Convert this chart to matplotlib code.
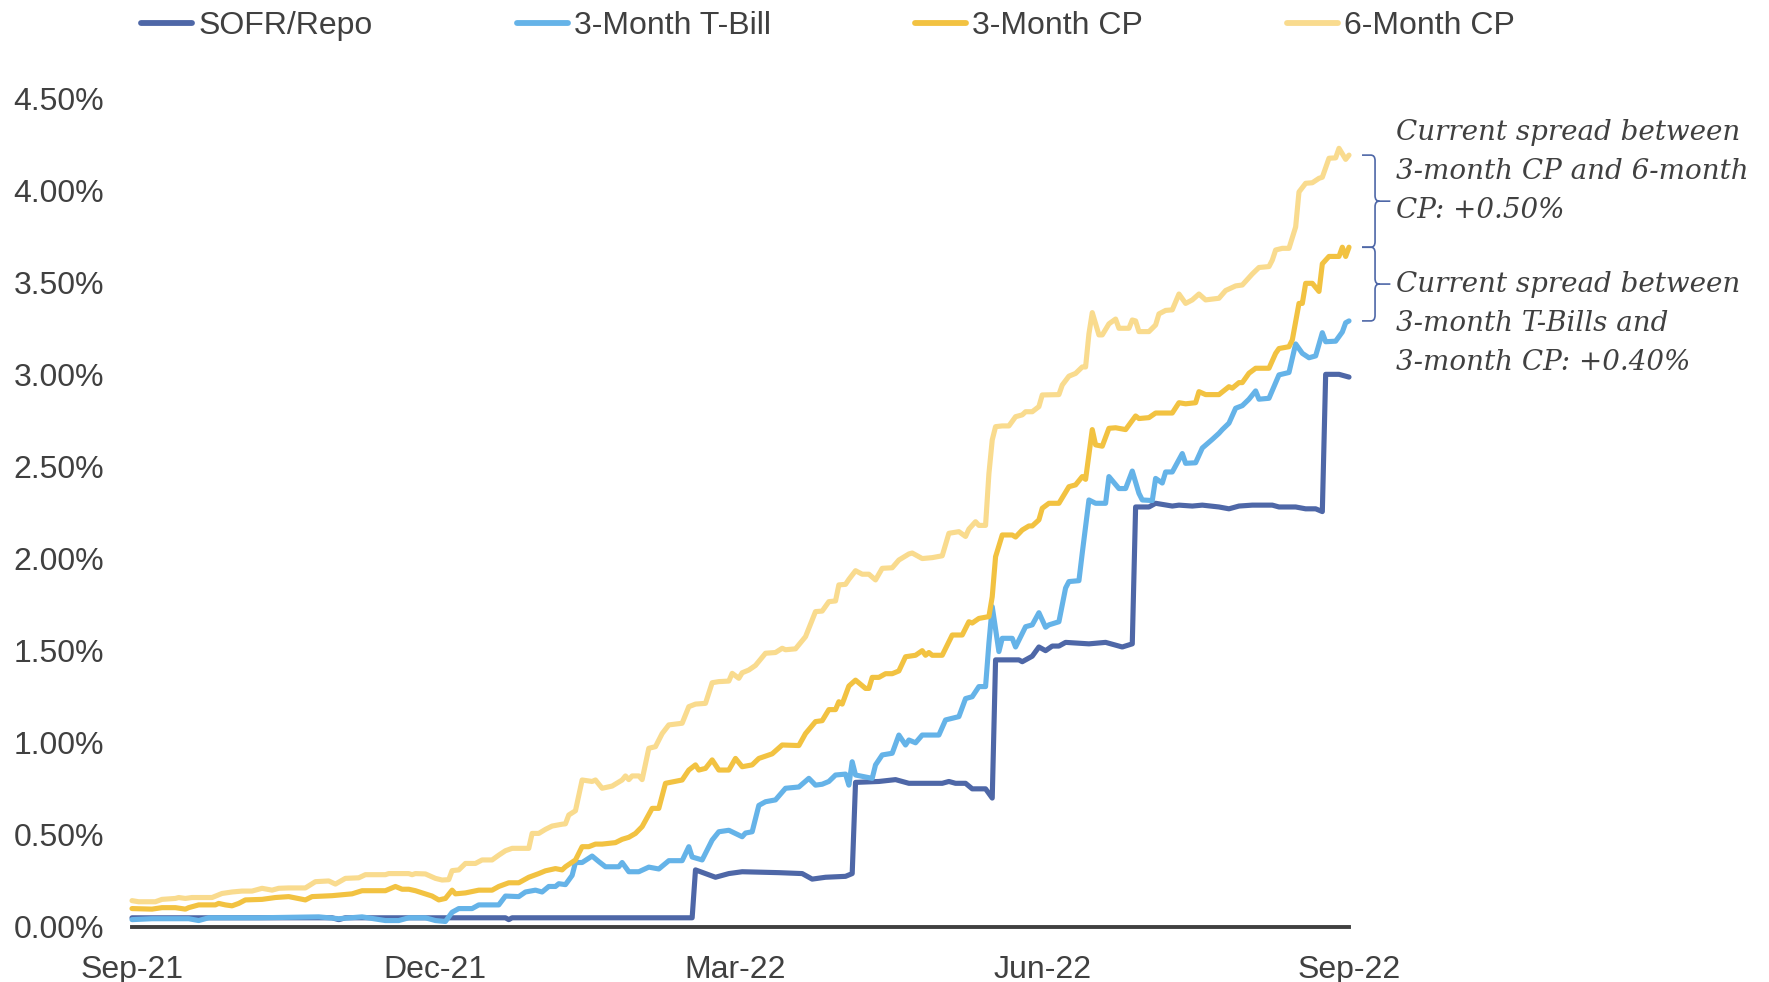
import pandas as pd
import matplotlib
matplotlib.use("Agg")
import matplotlib.pyplot as plt
import matplotlib.dates as mdates
import matplotlib.transforms as mtransforms
from matplotlib.path import Path
from matplotlib.patches import PathPatch
from matplotlib.ticker import FuncFormatter

START = pd.Timestamp("2021-09-01")

# Day offsets from 1 Sep 2021 and rates (%)
sofr_days = [0, 60, 62, 64, 112, 113, 114, 168, 169, 175,
             179, 183, 194, 201, 204, 208, 214, 216, 217, 224,
             229, 233, 243, 245, 247, 250, 252, 256, 258, 259,
             266, 267, 270, 272, 274, 276, 278, 280, 287, 292,
             297, 300, 301, 305, 307, 312, 314, 318, 321, 326,
             329, 332, 336, 342, 344, 349, 352, 355, 357, 358,
             362, 365]
sofr = [0.05, 0.05, 0.04, 0.05, 0.05, 0.04, 0.05, 0.05, 0.31, 0.27,
        0.29, 0.30, 0.295, 0.29, 0.26, 0.27, 0.275, 0.29, 0.785, 0.79,
        0.80, 0.78, 0.78, 0.79, 0.78, 0.78, 0.75, 0.75, 0.70, 1.45,
        1.45, 1.44, 1.47, 1.52, 1.50, 1.525, 1.525, 1.545, 1.537, 1.545,
        1.52, 1.537, 2.28, 2.28, 2.30, 2.285, 2.29, 2.285, 2.29, 2.28,
        2.27, 2.285, 2.29, 2.29, 2.28, 2.28, 2.27, 2.27, 2.255, 3.00,
        3.00, 2.985]

tbill_days = [0, 6, 17, 20, 23, 38, 56, 62, 69, 76,
              80, 83, 88, 91, 94, 96, 98, 102, 104, 110,
              112, 116, 118, 121, 123, 125, 127, 128, 130, 132,
              133, 135, 138, 140, 142, 146, 147, 149, 152, 155,
              158, 161, 165, 167, 168, 171, 174, 176, 179, 183,
              184, 186, 188, 190, 193, 196, 200, 203, 205, 207,
              209, 211, 214, 215, 216, 217, 222, 223, 225, 228,
              230, 232, 233, 235, 237, 242, 244, 248, 250, 252,
              254, 256, 257, 258, 260, 261, 264, 265, 268, 270,
              272, 274, 275, 278, 280, 281, 284, 285, 287, 289,
              292, 293, 296, 298, 300, 302, 303, 306, 307, 309,
              310, 312, 315, 316, 319, 321, 324, 326, 327, 329,
              331, 333, 335, 337, 338, 341, 344, 347, 349, 351,
              353, 355, 357, 358, 361, 363, 364, 365]
tbill = [0.04, 0.045, 0.045, 0.035, 0.05, 0.05, 0.055, 0.045, 0.055, 0.035,
         0.035, 0.05, 0.05, 0.035, 0.03, 0.08, 0.10, 0.10, 0.12, 0.12,
         0.168, 0.165, 0.19, 0.20, 0.19, 0.22, 0.22, 0.235, 0.23, 0.28,
         0.35, 0.35, 0.385, 0.355, 0.327, 0.327, 0.35, 0.30, 0.30, 0.325,
         0.315, 0.36, 0.36, 0.436, 0.38, 0.364, 0.472, 0.517, 0.525, 0.49,
         0.51, 0.517, 0.66, 0.68, 0.69, 0.753, 0.76, 0.807, 0.77, 0.775,
         0.79, 0.825, 0.83, 0.77, 0.897, 0.825, 0.807, 0.88, 0.934, 0.943,
         1.042, 0.988, 1.015, 1.00, 1.042, 1.042, 1.124, 1.142, 1.24, 1.25,
         1.305, 1.305, 1.54, 1.739, 1.495, 1.567, 1.567, 1.52, 1.63, 1.64,
         1.706, 1.627, 1.64, 1.657, 1.84, 1.875, 1.88, 2.03, 2.318, 2.30,
         2.30, 2.445, 2.38, 2.38, 2.475, 2.354, 2.318, 2.315, 2.435, 2.41,
         2.47, 2.47, 2.57, 2.517, 2.52, 2.60, 2.647, 2.68, 2.70, 2.735,
         2.816, 2.83, 2.865, 2.91, 2.865, 2.87, 2.997, 3.01, 3.165, 3.114,
         3.09, 3.10, 3.226, 3.177, 3.18, 3.23, 3.28, 3.29]

cp3_days = [0, 6, 9, 13, 16, 17, 20, 25, 26, 28,
            30, 32, 34, 39, 43, 47, 52, 54, 60, 66,
            69, 76, 79, 81, 83, 85, 90, 92, 94, 96,
            97, 100, 104, 108, 110, 113, 116, 119, 122, 124,
            127, 129, 130, 133, 135, 137, 139, 141, 145, 147,
            149, 151, 153, 156, 158, 160, 165, 167, 169, 170,
            172, 174, 176, 179, 181, 183, 186, 188, 192, 195,
            200, 202, 205, 207, 209, 211, 212, 213, 215, 217,
            220, 221, 222, 224, 226, 228, 230, 232, 235, 237,
            238, 239, 240, 243, 246, 249, 251, 252, 254, 257,
            258, 259, 261, 264, 265, 267, 269, 270, 272, 273,
            275, 278, 281, 283, 285, 286, 288, 289, 291, 293,
            295, 298, 301, 302, 305, 307, 312, 314, 316, 319,
            320, 322, 326, 329, 330, 332, 333, 335, 337, 341,
            343, 344, 347, 348, 350, 351, 352, 354, 356, 357,
            358, 359, 362, 363, 364, 365]
cp3 = [0.10, 0.097, 0.105, 0.105, 0.097, 0.105, 0.12, 0.12, 0.128, 0.12,
       0.115, 0.128, 0.147, 0.15, 0.16, 0.165, 0.147, 0.165, 0.17, 0.18,
       0.197, 0.197, 0.22, 0.205, 0.205, 0.197, 0.168, 0.147, 0.155, 0.20,
       0.18, 0.185, 0.20, 0.20, 0.22, 0.24, 0.24, 0.27, 0.29, 0.305,
       0.317, 0.31, 0.327, 0.364, 0.436, 0.436, 0.45, 0.45, 0.458, 0.476,
       0.487, 0.508, 0.545, 0.644, 0.644, 0.78, 0.798, 0.852, 0.88, 0.852,
       0.861, 0.907, 0.852, 0.852, 0.915, 0.87, 0.88, 0.915, 0.94, 0.988,
       0.985, 1.05, 1.115, 1.12, 1.18, 1.18, 1.223, 1.21, 1.308, 1.34,
       1.295, 1.295, 1.355, 1.355, 1.375, 1.375, 1.39, 1.467, 1.475, 1.50,
       1.475, 1.49, 1.475, 1.475, 1.585, 1.585, 1.657, 1.65, 1.675, 1.685,
       1.793, 2.01, 2.128, 2.128, 2.117, 2.155, 2.177, 2.177, 2.21, 2.273,
       2.30, 2.30, 2.39, 2.40, 2.445, 2.43, 2.70, 2.617, 2.61, 2.707,
       2.71, 2.70, 2.774, 2.76, 2.765, 2.79, 2.79, 2.846, 2.84, 2.846,
       2.906, 2.89, 2.89, 2.933, 2.925, 2.955, 2.955, 3.006, 3.033, 3.033,
       3.114, 3.14, 3.15, 3.187, 3.385, 3.385, 3.494, 3.494, 3.45, 3.60,
       3.62, 3.64, 3.64, 3.69, 3.64, 3.69]

cp6_days = [0, 2, 7, 9, 13, 14, 16, 18, 24, 27,
            30, 33, 36, 39, 42, 44, 47, 52, 55, 59,
            61, 64, 68, 70, 76, 77, 83, 84, 85, 88,
            91, 93, 95, 96, 98, 100, 103, 105, 108, 110,
            112, 114, 119, 120, 122, 124, 126, 129, 130, 131,
            133, 135, 138, 139, 141, 144, 147, 148, 149, 150,
            152, 153, 155, 157, 159, 161, 165, 167, 169, 172,
            174, 176, 179, 180, 182, 183, 185, 187, 190, 193,
            195, 196, 199, 202, 205, 207, 209, 211, 212, 214,
            215, 217, 219, 221, 223, 225, 228, 230, 233, 234,
            237, 240, 243, 245, 248, 250, 251, 253, 254, 256,
            257, 258, 259, 261, 263, 265, 267, 268, 270, 272,
            273, 278, 279, 281, 283, 285, 286, 287, 288, 290,
            291, 293, 295, 296, 299, 300, 301, 302, 305, 307,
            308, 310, 312, 314, 316, 318, 320, 322, 326, 328,
            331, 333, 336, 338, 341, 342, 343, 345, 347, 349,
            350, 352, 354, 356, 357, 359, 361, 362, 364, 365]
cp6 = [0.143, 0.137, 0.137, 0.15, 0.155, 0.16, 0.155, 0.16, 0.16, 0.182,
       0.19, 0.195, 0.195, 0.21, 0.20, 0.21, 0.212, 0.212, 0.246, 0.25,
       0.233, 0.264, 0.267, 0.284, 0.284, 0.29, 0.29, 0.284, 0.29, 0.288,
       0.264, 0.255, 0.257, 0.306, 0.31, 0.345, 0.345, 0.364, 0.364, 0.39,
       0.414, 0.427, 0.427, 0.508, 0.508, 0.53, 0.548, 0.558, 0.56, 0.608,
       0.631, 0.798, 0.79, 0.798, 0.753, 0.765, 0.798, 0.82, 0.80, 0.82,
       0.82, 0.80, 0.97, 0.979, 1.05, 1.097, 1.106, 1.196, 1.21, 1.214,
       1.326, 1.332, 1.335, 1.377, 1.35, 1.38, 1.395, 1.42, 1.486, 1.49,
       1.513, 1.505, 1.51, 1.576, 1.712, 1.715, 1.766, 1.77, 1.857, 1.86,
       1.887, 1.934, 1.915, 1.915, 1.884, 1.947, 1.95, 1.992, 2.025, 2.03,
       2.00, 2.005, 2.015, 2.137, 2.146, 2.12, 2.16, 2.20, 2.18, 2.18,
       2.46, 2.644, 2.716, 2.72, 2.72, 2.77, 2.78, 2.797, 2.797, 2.825,
       2.888, 2.89, 2.942, 2.99, 3.005, 3.04, 3.04, 3.22, 3.335, 3.214,
       3.214, 3.274, 3.30, 3.25, 3.25, 3.295, 3.29, 3.232, 3.232, 3.268,
       3.328, 3.347, 3.35, 3.436, 3.385, 3.404, 3.436, 3.404, 3.413, 3.455,
       3.48, 3.485, 3.545, 3.58, 3.585, 3.62, 3.675, 3.684, 3.684, 3.80,
       3.99, 4.037, 4.04, 4.064, 4.07, 4.173, 4.175, 4.227, 4.167, 4.19]

series_names = ["SOFR/Repo", "3-Month T-Bill", "3-Month CP", "6-Month CP"]
series_colors = ["#4E67A7", "#65B3E8", "#F2C241", "#F9DB8E"]

y_ticks = [0.0, 0.5, 1.0, 1.5, 2.0, 2.5, 3.0, 3.5, 4.0, 4.5]
x_ticks = ["2021-09-01", "2021-12-01", "2022-03-01", "2022-06-01", "2022-09-01"]

note_top = "Current spread between\n3-month CP and 6-month\nCP: +0.50%"
note_bottom = "Current spread between\n3-month T-Bills and\n3-month CP: +0.40%"

TEXT = "#404040"
plt.rcParams["font.family"] = ["Liberation Sans", "DejaVu Sans"]


def to_dates(days):
    return START + pd.to_timedelta(days, unit="D")


W, H = 1769, 982
fig = plt.figure(figsize=(W / 100, H / 100), dpi=100)
ax = fig.add_axes([132 / W, 55 / H, 1217 / W, 829 / H])

handles = []
for days, vals, name, col in zip([sofr_days, tbill_days, cp3_days, cp6_days],
                                 [sofr, tbill, cp3, cp6],
                                 series_names, series_colors):
    ln, = ax.plot(to_dates(days), vals, color=col, lw=3.7, label=name,
                  solid_joinstyle="round", solid_capstyle="round", clip_on=False)
    handles.append(ln)

ax.set_xlim(pd.Timestamp("2021-09-01"), pd.Timestamp("2022-09-01"))
ax.set_ylim(0, 4.5)
ax.set_yticks(y_ticks)
ax.yaxis.set_major_formatter(FuncFormatter(lambda v, p: f"{v:.2f}%"))
ax.set_xticks(pd.to_datetime(x_ticks))
ax.xaxis.set_major_formatter(mdates.DateFormatter("%b-%y"))
ax.tick_params(axis="both", length=0, labelsize=23, labelcolor=TEXT)
ax.tick_params(axis="y", pad=20)
ax.tick_params(axis="x", pad=20)
for s in ["top", "right", "left"]:
    ax.spines[s].set_visible(False)
ax.spines["bottom"].set_color(TEXT)
ax.spines["bottom"].set_linewidth(2.8)
ax.spines["bottom"].set_zorder(1)

leg = fig.legend(handles=handles, loc="center left", ncol=4,
                 bbox_to_anchor=(141 / W, 1 - 26 / H), frameon=False,
                 fontsize=23, handlelength=1.6, handletextpad=0.2,
                 columnspacing=4.5, borderpad=0, borderaxespad=0)
for t in leg.get_texts():
    t.set_color(TEXT)
for lh in leg.get_lines():
    lh.set_linewidth(4.2)
    lh.set_solid_capstyle("round")

# Braces marking the end-of-period spreads
trans = mtransforms.blended_transform_factory(ax.transAxes, ax.transData)


def brace(y_hi, y_lo):
    x0, x1, x2 = 1.0107, 1.0214, 1.034
    rx, ry = 0.0035, 0.03
    ym = (y_hi + y_lo) / 2
    verts = [(x0, y_hi), (x1 - rx, y_hi), (x1, y_hi), (x1, y_hi - ry),
             (x1, ym + ry), (x1, ym), (x1 + rx, ym), (x2, ym),
             (x1 + rx, ym), (x1, ym), (x1, ym - ry),
             (x1, y_lo + ry), (x1, y_lo), (x1 - rx, y_lo), (x0, y_lo)]
    codes = [Path.MOVETO, Path.LINETO, Path.CURVE3, Path.CURVE3,
             Path.LINETO, Path.CURVE3, Path.CURVE3, Path.LINETO,
             Path.MOVETO, Path.CURVE3, Path.CURVE3,
             Path.LINETO, Path.CURVE3, Path.CURVE3, Path.LINETO]
    ax.add_patch(PathPatch(Path(verts, codes), transform=trans, fill=False,
                           edgecolor="#4E67A7", lw=1.2, clip_on=False))


brace(cp6[-1], cp3[-1])
brace(cp3[-1], tbill[-1])

fig.text(1396 / W, 1 - 171.5 / H, note_top, ha="left", va="center",
         fontsize=20, style="italic", family="DejaVu Serif", color=TEXT,
         linespacing=1.56)
fig.text(1396 / W, 1 - 323.7 / H, note_bottom, ha="left", va="center",
         fontsize=20, style="italic", family="DejaVu Serif", color=TEXT,
         linespacing=1.56)

fig.savefig("out.png", dpi=100)
